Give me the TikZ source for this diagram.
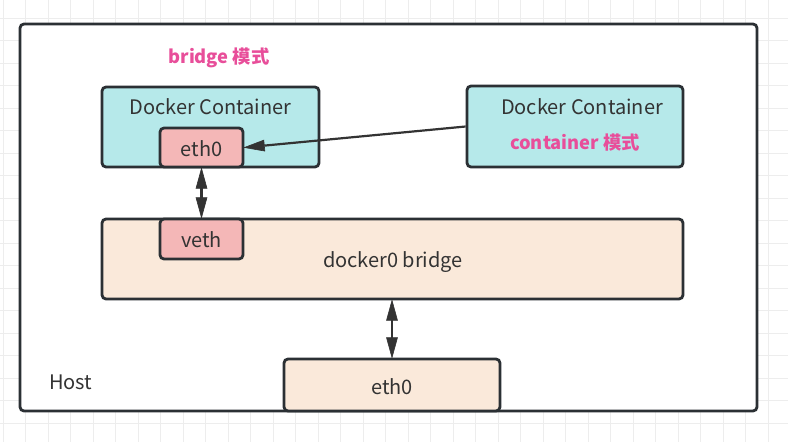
\documentclass[tikz,border=0pt]{standalone}
\usepackage{fontspec}
\setmainfont{Noto Sans CJK SC}
\usetikzlibrary{calc}
\definecolor{gridc}{HTML}{EDEDED}
\definecolor{edge}{HTML}{2B3034}
\definecolor{cyanf}{HTML}{B6E9EA}
\definecolor{pinkf}{HTML}{F4B7B7}
\definecolor{peachf}{HTML}{FAE9DA}
\definecolor{modec}{HTML}{E84E9A}
\definecolor{txt}{HTML}{333333}
\tikzset{
  box/.style={draw=edge, line width=2.8pt, rounded corners=4pt, inner sep=0pt},
  lbl/.style={text=txt, font=\fontsize{20}{24}\selectfont, inner sep=0pt},
  mode/.style={text=modec, font=\fontsize{18.3}{22}\selectfont\bfseries, inner sep=0pt},
  conn/.style={draw=txt, line width=2.2pt},
  head/.style={fill=txt, draw=txt, line width=0.6pt, line join=miter}
}
\begin{document}
\begin{tikzpicture}[x=1pt,y=-1pt]
\useasboundingbox (0,0) rectangle (788,442);
\fill[white] (0,0) rectangle (788,442);
\foreach \i in {0,...,35} \draw[gridc, line width=1pt] ({3+22.5*\i},0) -- ({3+22.5*\i},442);
\foreach \j in {0,...,20} \draw[gridc, line width=1pt] (0,{-4.5+22.5*\j}) -- (788,{-4.5+22.5*\j});
% host
\node[box, fill=white, minimum width=737pt, minimum height=387pt] (host) at (388.5,217.5) {};
\node[lbl, anchor=west] (hostl) at (49,382) {Host};
\node[mode] (bm) at (219,58) {bridge 模式};
% left container
\node[box, fill=cyanf, minimum width=217pt, minimum height=80pt] (lc) at (210.5,127) {};
\node[lbl] (lct) at (210.5,107) {Docker Container};
\node[box, fill=pinkf, minimum width=83pt, minimum height=39pt] (eth) at (201.5,147.5) {};
\node[lbl] (etht) at (201.5,149) {eth0};
% right container
\node[box, fill=cyanf, minimum width=216pt, minimum height=81pt] (rc) at (575,126.5) {};
\node[lbl] (rct) at (582,107) {Docker Container};
\node[mode] (cm) at (575,143) {container 模式};
% bridge
\node[box, fill=peachf, minimum width=581pt, minimum height=80pt] (br) at (392.5,259) {};
\node[lbl] (brt) at (393,262) {docker0 bridge};
\node[box, fill=pinkf, minimum width=83pt, minimum height=40pt] (veth) at (201.5,239) {};
\node[lbl] (vetht) at (201.5,240) {veth};
% host eth0
\node[box, fill=peachf, minimum width=216pt, minimum height=52pt] (heth) at (392,385) {};
\node[lbl] (hetht) at (392,387) {eth0};
% connector: right container -> eth0
\coordinate (a1) at ($(eth.east)!20pt!(rc.west)$);
\draw[conn] (rc.west) -- (a1);
\fill[head] (eth.east) -- ($(a1)!5.5pt!90:(eth.east)$) -- ($(a1)!5.5pt!-90:(eth.east)$) -- cycle;
% connector: eth0 <-> veth
\coordinate (b1) at ($(eth.south)!20pt!(veth.north)$);
\coordinate (b2) at ($(veth.north)!20pt!(eth.south)$);
\draw[conn] (b1) -- (b2);
\fill[head] (eth.south) -- ($(b1)!5.5pt!90:(eth.south)$) -- ($(b1)!5.5pt!-90:(eth.south)$) -- cycle;
\fill[head] (veth.north) -- ($(b2)!5.5pt!90:(veth.north)$) -- ($(b2)!5.5pt!-90:(veth.north)$) -- cycle;
% connector: bridge <-> host eth0
\coordinate (c0) at (br.south -| heth.north);
\coordinate (c1) at ($(c0)!20pt!(heth.north)$);
\coordinate (c2) at ($(heth.north)!20pt!(c0)$);
\draw[conn] (c1) -- (c2);
\fill[head] (c0) -- ($(c1)!5.5pt!90:(c0)$) -- ($(c1)!5.5pt!-90:(c0)$) -- cycle;
\fill[head] (heth.north) -- ($(c2)!5.5pt!90:(heth.north)$) -- ($(c2)!5.5pt!-90:(heth.north)$) -- cycle;
\end{tikzpicture}
\end{document}
